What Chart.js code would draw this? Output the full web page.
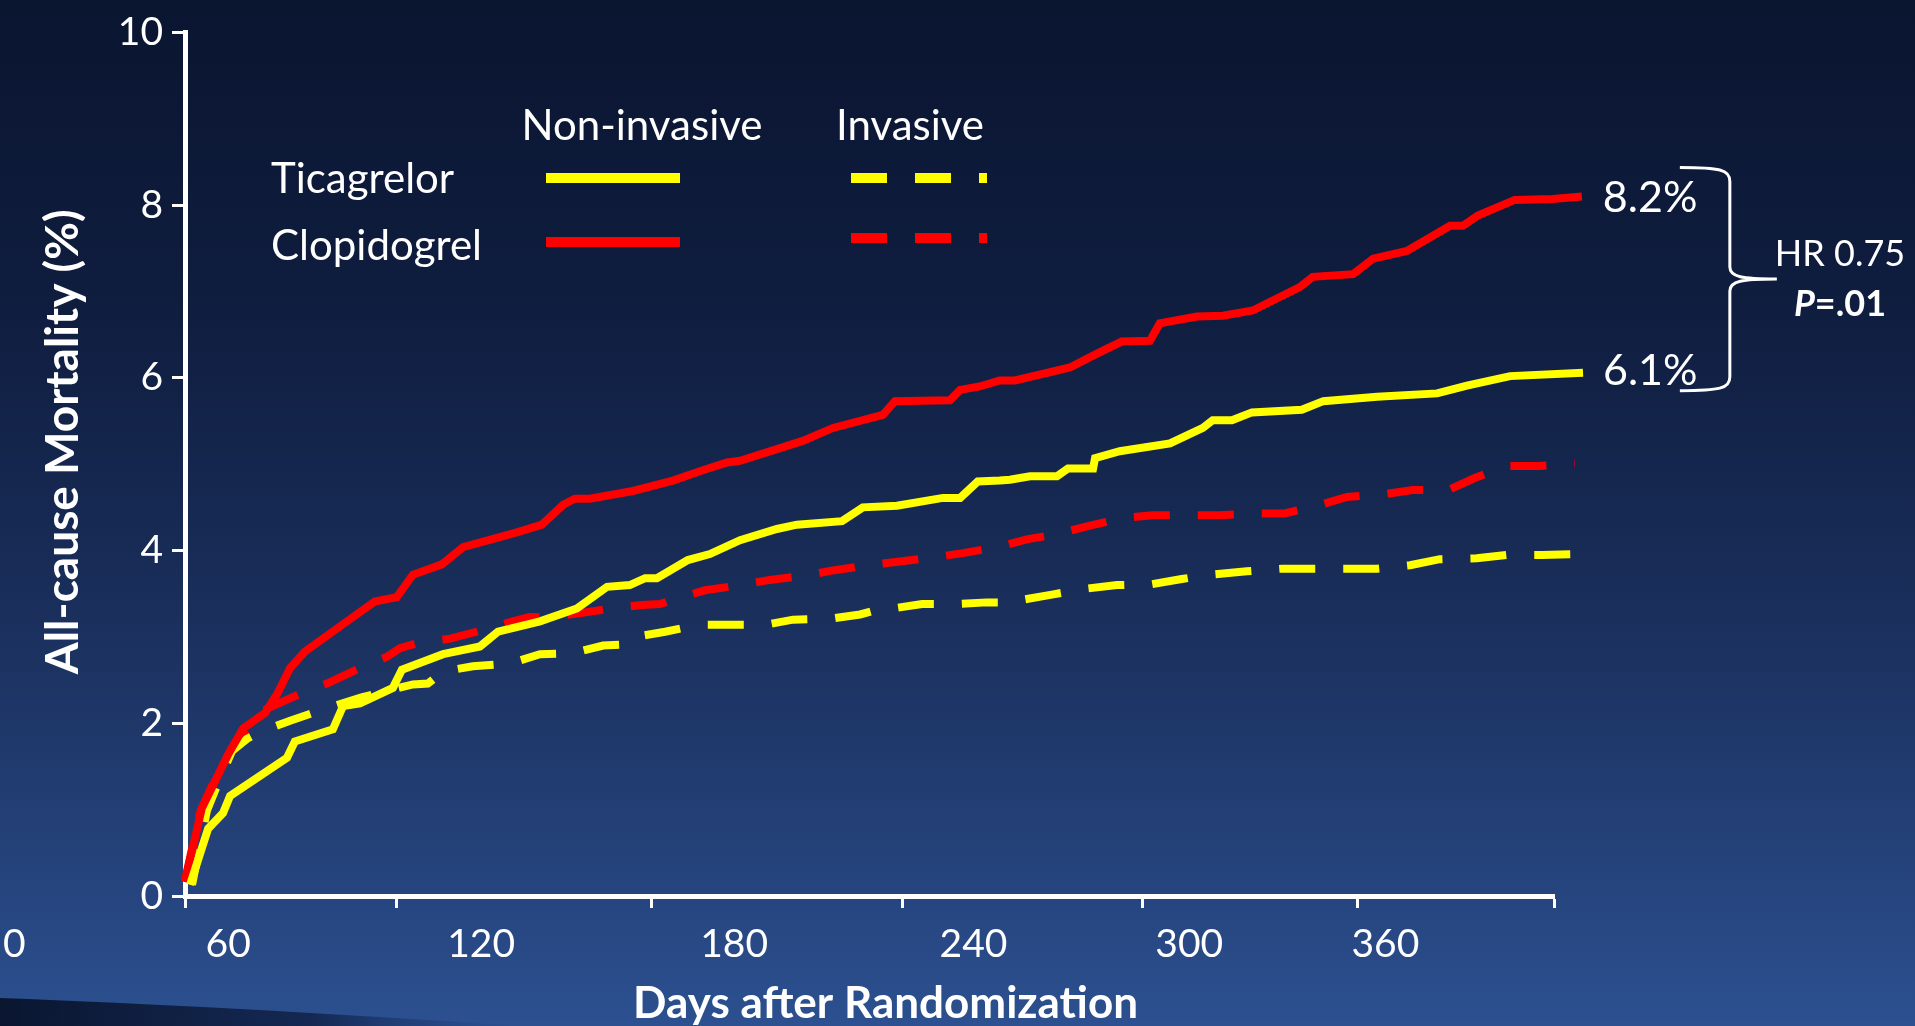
<!DOCTYPE html>
<html>
<head>
<meta charset="utf-8">
<title>All-cause mortality: ticagrelor vs clopidogrel</title>
<script src="https://cdn.jsdelivr.net/npm/chart.js@4.4.1/dist/chart.umd.min.js"></script>
<style>
  html, body { margin: 0; padding: 0; background: #0b1733; overflow: hidden; }
  canvas { display: block; }
</style>
</head>
<body>
<canvas id="myChart" width="1915" height="1026"></canvas>
<script>
// axis ticks as printed on the slide (the label row sits left of the tick marks)
const xLabelText = ['0', '60', '120', '180', '240', '300', '360'];
const xLabelAt = [1.5, 56, 120.5, 185, 246, 301, 351];
const xMarkDays = [45, 99, 164, 228, 289, 344, 394];
const yTickValues = [0, 2, 4, 6, 8, 10];

// Ticagrelor, non-invasive (solid yellow)
const ticaNonInvDays = [46.3, 50.9, 54.7, 56.5, 71.0, 73.0, 82.7, 85.3, 89.6, 98.0, 100.3, 110.8, 120.2, 124.8, 135.5, 144.9, 152.6, 158.4, 162.3, 165.3, 173.2, 178.8, 186.5, 195.9, 201.0, 212.5, 217.8, 226.5, 238.2, 242.6, 247.1, 252.7, 255.3, 260.4, 267.3, 270.1, 276.5, 277.0, 283.3, 296.1, 304.5, 307.0, 311.9, 317.0, 329.7, 335.2, 348.9, 364.2, 371.8, 382.8, 401.4];
const ticaNonInv = [0.13, 0.78, 0.96, 1.16, 1.60, 1.79, 1.93, 2.20, 2.23, 2.41, 2.62, 2.80, 2.89, 3.06, 3.18, 3.33, 3.58, 3.60, 3.68, 3.68, 3.89, 3.96, 4.12, 4.25, 4.30, 4.34, 4.50, 4.52, 4.61, 4.61, 4.80, 4.81, 4.82, 4.86, 4.86, 4.95, 4.95, 5.07, 5.15, 5.24, 5.42, 5.51, 5.51, 5.60, 5.63, 5.73, 5.78, 5.82, 5.91, 6.02, 6.06];

// Clopidogrel, non-invasive (solid red)
const clopNonInvDays = [45.0, 49.3, 56.0, 59.8, 65.4, 68.5, 71.8, 75.6, 86.3, 93.4, 99.0, 103.1, 110.5, 115.9, 129.6, 136.0, 141.4, 144.4, 148.2, 159.2, 169.4, 177.0, 183.2, 186.5, 202.5, 210.2, 222.9, 226.0, 240.0, 242.6, 247.6, 252.7, 256.6, 270.6, 277.5, 283.8, 291.0, 293.5, 303.0, 309.6, 317.2, 329.2, 332.5, 342.8, 347.9, 356.5, 367.5, 370.8, 374.6, 384.0, 393.7, 401.1];
const clopNonInv = [0.16, 1.02, 1.64, 1.94, 2.12, 2.34, 2.64, 2.83, 3.18, 3.41, 3.46, 3.72, 3.84, 4.04, 4.21, 4.30, 4.53, 4.60, 4.60, 4.69, 4.81, 4.93, 5.02, 5.04, 5.27, 5.42, 5.57, 5.73, 5.74, 5.86, 5.90, 5.97, 5.97, 6.12, 6.28, 6.42, 6.43, 6.63, 6.71, 6.72, 6.78, 7.05, 7.17, 7.20, 7.38, 7.47, 7.76, 7.76, 7.88, 8.06, 8.07, 8.10];

// Ticagrelor, invasive (dashed yellow)
const ticaInvDays = [46.8, 50.6, 53.9, 57.0, 60.8, 64.6, 71.8, 80.2, 90.0, 103.1, 106.9, 110.8, 118.4, 127.8, 135.5, 143.6, 151.6, 156.4, 159.7, 167.4, 175.8, 183.9, 192.8, 200.0, 209.4, 217.1, 222.7, 225.5, 232.9, 241.8, 249.4, 256.1, 258.4, 266.0, 274.9, 282.6, 291.5, 299.1, 306.3, 315.7, 324.6, 332.3, 341.2, 348.9, 357.3, 364.9, 374.3, 382.0, 390.9, 401.4];
const ticaInv = [0.13, 0.99, 1.36, 1.68, 1.82, 1.91, 2.03, 2.16, 2.30, 2.45, 2.46, 2.60, 2.66, 2.69, 2.80, 2.81, 2.90, 2.91, 3.00, 3.06, 3.14, 3.14, 3.14, 3.20, 3.21, 3.26, 3.33, 3.33, 3.38, 3.38, 3.40, 3.40, 3.43, 3.49, 3.56, 3.60, 3.61, 3.67, 3.72, 3.76, 3.79, 3.79, 3.79, 3.79, 3.83, 3.90, 3.91, 3.95, 3.95, 3.96];

// Clopidogrel, invasive (dashed red)
const clopInvDays = [45.0, 48.8, 52.1, 56.0, 61.0, 65.9, 73.8, 81.2, 89.6, 96.5, 99.8, 104.4, 112.6, 121.0, 128.6, 132.9, 137.3, 144.9, 153.8, 161.5, 166.1, 169.9, 177.6, 186.5, 194.1, 203.0, 210.2, 219.1, 226.7, 235.7, 243.3, 252.2, 259.6, 267.3, 275.7, 284.6, 291.7, 301.2, 308.8, 317.8, 325.4, 333.8, 341.2, 350.4, 358.0, 367.0, 373.8, 382.0, 390.4, 399.3];
const clopInv = [0.18, 0.96, 1.30, 1.60, 1.95, 2.17, 2.33, 2.46, 2.64, 2.77, 2.87, 2.93, 2.98, 3.08, 3.18, 3.23, 3.23, 3.27, 3.33, 3.37, 3.38, 3.44, 3.54, 3.60, 3.66, 3.71, 3.77, 3.83, 3.87, 3.92, 3.97, 4.04, 4.13, 4.19, 4.29, 4.38, 4.41, 4.41, 4.41, 4.43, 4.43, 4.52, 4.62, 4.65, 4.70, 4.70, 4.84, 4.98, 4.98, 5.01];

const rowNames = ['Ticagrelor', 'Clopidogrel'];
const colNames = ['Non-invasive', 'Invasive'];
const endLabels = ['6.1%', '8.2%'];
const hrLabel = 'HR 0.75';

const YELLOW = '#ffff00';
const RED = '#ff0000';
const DASH = [36, 28];
const FONT = 'Lato';

function toPoints(days, vals) {
    return days.map((d, i) => ({ x: d, y: vals[i] }));
}

function makeSet(label, days, vals, color, dashed) {
    return {
        label: label,
        data: toPoints(days, vals),
        borderColor: color,
        borderWidth: 8,
        borderDash: dashed ? DASH : [],
        pointRadius: 0,
        tension: 0,
        fill: false,
        clip: false
    };
}

const bgPlugin = {
    id: 'slideBackground',
    beforeDraw(chart) {
        const { ctx, width, height } = chart;
        ctx.save();
        const g = ctx.createLinearGradient(0, 0, 0, height);
        g.addColorStop(0, '#0a1530');
        g.addColorStop(0.3, '#0f1d3f');
        g.addColorStop(0.6, '#1a2f5c');
        g.addColorStop(0.85, '#25437c');
        g.addColorStop(1, '#2c5090');
        ctx.fillStyle = g;
        ctx.fillRect(0, 0, width, height);
        // dark swoosh in the lower left corner
        const s = ctx.createLinearGradient(0, 0, 520, 0);
        s.addColorStop(0, 'rgba(10,22,48,1)');
        s.addColorStop(0.6, 'rgba(14,30,66,0.8)');
        s.addColorStop(1, 'rgba(30,60,120,0)');
        ctx.beginPath();
        ctx.moveTo(0, height - 28);
        ctx.quadraticCurveTo(220, height - 20, 520, height);
        ctx.lineTo(0, height);
        ctx.closePath();
        ctx.fillStyle = s;
        ctx.fill();
        ctx.restore();
    }
};

// two-by-two legend: rows = drug, columns = strategy
const legendPlugin = {
    id: 'gridLegend',
    afterDraw(chart) {
        const ctx = chart.ctx;
        const sets = chart.data.datasets;
        const colX = [[546, 680], [851, 987]];
        const rowY = [178, 242];
        ctx.save();
        ctx.fillStyle = '#ffffff';
        ctx.font = '42px ' + FONT;
        ctx.textBaseline = 'alphabetic';
        ctx.textAlign = 'center';
        ctx.fillText(colNames[0], 642, 140);
        ctx.fillText(colNames[1], 910, 140);
        ctx.textAlign = 'left';
        ctx.fillText(rowNames[0], 271, 193);
        ctx.fillText(rowNames[1], 271, 260);
        for (let c = 0; c < 2; c++) {
            for (let r = 0; r < 2; r++) {
                const ds = sets[c * 2 + r];
                const y = rowY[r] - (c === 1 && r === 1 ? 4 : 0);
                ctx.strokeStyle = ds.borderColor;
                ctx.lineWidth = 10;
                ctx.setLineDash(ds.borderDash);
                ctx.beginPath();
                ctx.moveTo(colX[c][0], y);
                ctx.lineTo(colX[c][1], y);
                ctx.stroke();
            }
        }
        ctx.restore();
    }
};

// end values, brace and hazard ratio
const notesPlugin = {
    id: 'endNotes',
    afterDraw(chart) {
        const ctx = chart.ctx;
        const xs = chart.scales.x;
        const ys = chart.scales.y;
        const yelX = xs.getPixelForValue(ticaNonInvDays[ticaNonInvDays.length - 1]);
        const yelY = ys.getPixelForValue(ticaNonInv[ticaNonInv.length - 1]);
        const redX = xs.getPixelForValue(clopNonInvDays[clopNonInvDays.length - 1]);
        const redY = ys.getPixelForValue(clopNonInv[clopNonInv.length - 1]);
        ctx.save();
        ctx.fillStyle = '#ffffff';
        ctx.font = '43px ' + FONT;
        ctx.textAlign = 'left';
        ctx.textBaseline = 'alphabetic';
        ctx.fillText(endLabels[1], redX + 21, redY + 16);
        ctx.fillText(endLabels[0], yelX + 20, yelY + 12);

        const top = redY - 29;
        const bot = yelY + 18;
        const mid = (top + bot) / 2;
        const x0 = redX + 98;
        const x1 = x0 + 50;
        const xt = x1 + 47;
        ctx.strokeStyle = '#ffffff';
        ctx.lineWidth = 3;
        ctx.beginPath();
        ctx.moveTo(x0, top);
        ctx.bezierCurveTo(x1 - 10, top, x1, top + 2, x1, top + 14);
        ctx.lineTo(x1, mid - 12);
        ctx.bezierCurveTo(x1, mid - 2, x1 + 12, mid, xt, mid);
        ctx.bezierCurveTo(x1 + 12, mid, x1, mid + 2, x1, mid + 12);
        ctx.lineTo(x1, bot - 14);
        ctx.bezierCurveTo(x1, bot - 2, x1 - 10, bot, x0, bot);
        ctx.stroke();

        const cx = 1840;
        ctx.textAlign = 'center';
        ctx.font = '36px ' + FONT;
        ctx.fillText(hrLabel, cx, mid - 13);
        ctx.font = 'italic bold 36px ' + FONT;
        const wP = ctx.measureText('P').width;
        ctx.font = 'bold 36px ' + FONT;
        const wRest = ctx.measureText('=.01').width;
        const startX = cx - (wP + wRest) / 2;
        ctx.textAlign = 'left';
        ctx.font = 'italic bold 36px ' + FONT;
        ctx.fillText('P', startX, mid + 37);
        ctx.font = 'bold 36px ' + FONT;
        ctx.fillText('=.01', startX + wP, mid + 37);
        ctx.restore();
    }
};

function buildChart(target) {
    const chart = new Chart(target, {
        type: 'line',
        data: {
            datasets: [
                makeSet('Ticagrelor, non-invasive', ticaNonInvDays, ticaNonInv, YELLOW, false),
                makeSet('Clopidogrel, non-invasive', clopNonInvDays, clopNonInv, RED, false),
                makeSet('Ticagrelor, invasive', ticaInvDays, ticaInv, YELLOW, true),
                makeSet('Clopidogrel, invasive', clopInvDays, clopInv, RED, true)
            ]
        },
        options: {
            responsive: false,
            animation: false,
            layout: { padding: { left: 0, right: 361, top: 27, bottom: 0 } },
            plugins: {
                legend: { display: false },
                tooltip: { enabled: false }
            },
            scales: {
                x: {
                    type: 'linear',
                    position: 'bottom',
                    weight: 1,
                    min: 45,
                    max: 394,
                    afterBuildTicks: (scale) => { scale.ticks = xLabelAt.map(v => ({ value: v })); },
                    ticks: {
                        color: '#ffffff',
                        font: { family: FONT, size: 39 },
                        padding: 5,
                        autoSkip: false,
                        maxRotation: 0,
                        callback: (v, i) => xLabelText[i]
                    },
                    grid: { display: false },
                    border: { display: false },
                    title: {
                        display: true,
                        text: '   Days after Randomization',
                        color: '#ffffff',
                        font: { family: FONT, size: 44, weight: 'bold', lineHeight: 1.0 },
                        padding: 0
                    },
                    afterFit: (scale) => { scale.height = 118; }
                },
                xt: {
                    type: 'linear',
                    position: 'bottom',
                    weight: 0,
                    min: 45,
                    max: 394,
                    afterBuildTicks: (scale) => { scale.ticks = xMarkDays.map(v => ({ value: v })); },
                    ticks: { display: false },
                    grid: { drawOnChartArea: false, drawTicks: true, tickLength: 12, tickWidth: 3, tickColor: '#ffffff' },
                    border: { display: true, color: '#ffffff', width: 5 },
                    afterFit: (scale) => { scale.height = 12; }
                },
                y: {
                    min: 0,
                    max: 10,
                    afterBuildTicks: (scale) => { scale.ticks = yTickValues.map(v => ({ value: v })); },
                    ticks: {
                        color: '#ffffff',
                        font: { family: FONT, size: 39 },
                        padding: 9
                    },
                    grid: { drawOnChartArea: false, drawTicks: true, tickLength: 13, tickWidth: 3, tickColor: '#ffffff' },
                    border: { display: true, color: '#ffffff', width: 5 },
                    title: {
                        display: true,
                        text: '    All-cause Mortality (%)',
                        color: '#ffffff',
                        font: { family: FONT, size: 46, weight: 'bold', lineHeight: 1.2 },
                        padding: { top: 36, bottom: 0 }
                    },
                    afterFit: (scale) => { scale.width = 185; }
                }
            }
        },
        plugins: [bgPlugin, legendPlugin, notesPlugin]
    });
    return chart;
}

async function mainEvent(evt) {
    const target = document.querySelector('#myChart');
    if (document.fonts && document.fonts.load) {
        try {
            await Promise.all([
                document.fonts.load('39px Lato'),
                document.fonts.load('bold 44px Lato'),
                document.fonts.load('italic bold 36px Lato')
            ]);
        } catch (e) { /* fall back to whatever is there */ }
    }
    buildChart(target);
}

document.addEventListener('DOMContentLoaded', async (event) => mainEvent(event));
</script>
</body>
</html>
